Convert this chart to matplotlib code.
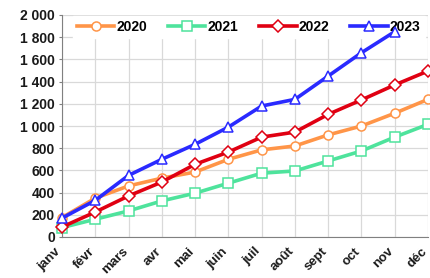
import matplotlib.pyplot as plt
import matplotlib.transforms as mtransforms
from matplotlib.ticker import FuncFormatter

mois = ["janv", "févr", "mars", "avr", "mai", "juin",
        "juil", "août", "sept", "oct", "nov", "déc"]

v2020 = [175, 350, 460, 530, 585, 700, 785, 820, 920, 1000, 1115, 1240]
v2021 = [85, 160, 235, 325, 395, 485, 575, 595, 685, 775, 900, 1015]
v2022 = [90, 225, 370, 495, 655, 765, 900, 945, 1105, 1235, 1370, 1495]
v2023 = [170, 330, 555, 700, 835, 990, 1180, 1240, 1450, 1660, 1850]

plt.rcParams['font.family'] = ['Liberation Sans', 'DejaVu Sans']

fig = plt.figure(figsize=(4.31, 2.78), dpi=100)
ax = fig.add_axes([62 / 431, 1 - 237 / 278, 366 / 431, 222 / 278])

x = list(range(len(mois)))
series = [
    ("2020", v2020, "#ff9548", "o"),
    ("2021", v2021, "#4ee39c", "s"),
    ("2022", v2022, "#e00012", "D"),
    ("2023", v2023, "#2a2aff", "^"),
]
for nom, vals, couleur, mk in series:
    ax.plot(x[:len(vals)], vals, color=couleur, lw=2.6, marker=mk,
            markersize=6.5 if mk != "D" else 6, markerfacecolor="white",
            markeredgecolor=couleur, markeredgewidth=1.1, label=nom,
            clip_on=False, zorder=4)

ax.set_xlim(0, 11)
ax.set_ylim(0, 2000)
ax.set_yticks(range(0, 2001, 200))
ax.yaxis.set_major_formatter(FuncFormatter(lambda v, p: f"{int(v):,}".replace(",", " ")))
ax.set_xticks(x)
ax.set_xticklabels(mois, rotation=45, ha="right", rotation_mode="anchor")

ax.grid(True, color="#d9d9d9", lw=0.9)
ax.set_axisbelow(True)
for s in ["top", "right"]:
    ax.spines[s].set_visible(False)
for s in ["left", "bottom"]:
    ax.spines[s].set_color("#808080")
ax.tick_params(axis="y", length=2, color="#808080", labelsize=10, pad=3)
ax.tick_params(axis="x", length=0, labelsize=9.5, pad=6)
for lab in ax.get_xticklabels() + ax.get_yticklabels():
    lab.set_fontweight("bold")
    lab.set_color("#1a1a1a")

# décaler les mois un peu vers la gauche (fin du texte sous le repère)
decal = mtransforms.ScaledTranslation(-0.07, 0, fig.dpi_scale_trans)
for lab in ax.get_xticklabels():
    lab.set_transform(lab.get_transform() + decal)

leg = ax.legend(loc="upper center", ncol=4, frameon=True, fancybox=False,
                edgecolor="white", framealpha=1, handlelength=2.7,
                columnspacing=1.5, handletextpad=0.15, borderaxespad=0.05,
                borderpad=0.3, prop={"weight": "bold", "size": 10},
                bbox_to_anchor=(0.51, 1.0))
leg.set_zorder(3)

fig.savefig("out.png", dpi=100)
